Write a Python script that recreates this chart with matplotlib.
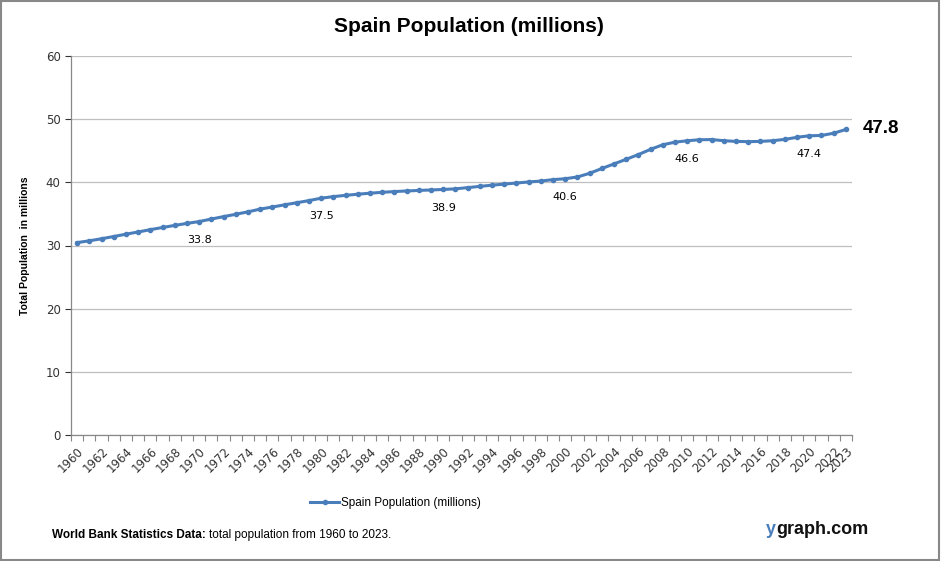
import matplotlib
matplotlib.use('Agg')
import matplotlib.pyplot as plt
from matplotlib.patches import Rectangle
from matplotlib.transforms import offset_copy

years = list(range(1960, 2024))
population = [30.46, 30.74, 31.07, 31.42, 31.79, 32.14, 32.51, 32.85, 33.18, 33.50,
              33.79, 34.19, 34.57, 34.94, 35.33, 35.76, 36.09, 36.44, 36.77, 37.11,
              37.49, 37.74, 37.94, 38.12, 38.28, 38.42, 38.54, 38.63, 38.72, 38.79,
              38.87, 38.97, 39.16, 39.36, 39.55, 39.72, 39.89, 40.06, 40.20, 40.43,
              40.57, 40.85, 41.43, 42.19, 42.92, 43.65, 44.40, 45.23, 45.95, 46.36,
              46.58, 46.74, 46.77, 46.59, 46.48, 46.44, 46.48, 46.59, 46.80, 47.13,
              47.37, 47.42, 47.78, 48.37]
label_years = [1970, 1980, 1990, 2000, 2010, 2020]
end_label = '47.8'

line_color = '#4a7ebb'
narrow = ['Liberation Sans', 'DejaVu Sans']

fig = plt.figure(figsize=(9.41, 5.61), dpi=100)
ax = fig.add_axes([71/941, 126/561, 781/941, 379/561])

x = list(range(len(years)))
ax.plot(x, population, color=line_color, lw=2.2, marker='o', ms=3,
        label='Spain Population (millions)')

for yr in label_years:
    i = years.index(yr)
    ax.annotate(f'{population[i]:.1f}', (i, population[i]), xytext=(0, -13),
                textcoords='offset points', ha='center', va='center',
                fontsize=8, family='DejaVu Sans')

ax.annotate(end_label, (x[-1], population[-1]), xytext=(12, 1),
            textcoords='offset points', ha='left', va='center',
            fontsize=13.5, fontweight='bold', family=narrow)

ax.set_xlim(-0.5, len(years) - 0.5)
ax.set_ylim(0, 60)
ax.set_yticks(range(0, 61, 10))
ax.tick_params(axis='y', labelsize=8.5, colors='#333333', length=4, width=0.8)
ax.yaxis.grid(True, color='#bfbfbf', lw=0.9)
ax.set_axisbelow(True)

tick_idx = [i for i, yr in enumerate(years) if yr % 2 == 0] + [len(years) - 1]
ax.set_xticks(tick_idx)
ax.set_xticklabels([str(years[i]) for i in tick_idx], rotation=45, ha='right',
                   rotation_mode='anchor', fontsize=8.5, color='#333333')
ax.tick_params(axis='x', length=0, pad=7)
ax.set_xticks([i - 0.5 for i in range(len(years) + 1)], minor=True)
ax.tick_params(axis='x', which='minor', length=4, width=0.8, color='#888888')

for s in ['top', 'right']:
    ax.spines[s].set_visible(False)
for s in ['left', 'bottom']:
    ax.spines[s].set_color('#888888')
    ax.spines[s].set_linewidth(0.9)

ax.set_ylabel('Total Population  in millions', fontsize=7.5, fontweight='bold',
              family=narrow)
ax.yaxis.set_label_coords(-0.052, 0.5)

fig.text(0.498, 0.952, 'Spain Population (millions)', ha='center', va='center',
         fontsize=15, fontweight='bold', family=narrow)

leg = fig.legend(loc='center', bbox_to_anchor=(0.42, 0.104), frameon=False,
                 prop={'family': narrow, 'size': 8.5}, handlelength=2.5,
                 handletextpad=0.1)

fig.canvas.draw()
r = fig.canvas.get_renderer()

t1 = fig.text(52/941, 1 - 535/561, 'World Bank Statistics Data:', ha='left',
              va='center', fontsize=8.5, fontweight='bold', family=narrow)
w1 = t1.get_window_extent(r).width
fig.text(52/941, 1 - 535/561, 'total population from 1960 to 2023.', ha='left',
         va='center', fontsize=8.5, family=narrow,
         transform=offset_copy(fig.transFigure, fig=fig, x=w1 + 3, y=0, units='dots'))

t2 = fig.text(766/941, 1 - 529/561, 'y', ha='left', va='center', fontsize=13,
              fontweight='bold', color='#4a7ebb', family=narrow)
w2 = t2.get_window_extent(r).width
fig.text(766/941, 1 - 529/561, 'graph.com', ha='left', va='center', fontsize=13,
         fontweight='bold', color='#111111', family=narrow,
         transform=offset_copy(fig.transFigure, fig=fig, x=w2, y=0, units='dots'))

fig.patches.append(Rectangle((0.001, 0.001), 0.997, 0.997, transform=fig.transFigure,
                             fill=False, edgecolor='#888888', lw=1.5))

fig.savefig('out.png', dpi=100)
